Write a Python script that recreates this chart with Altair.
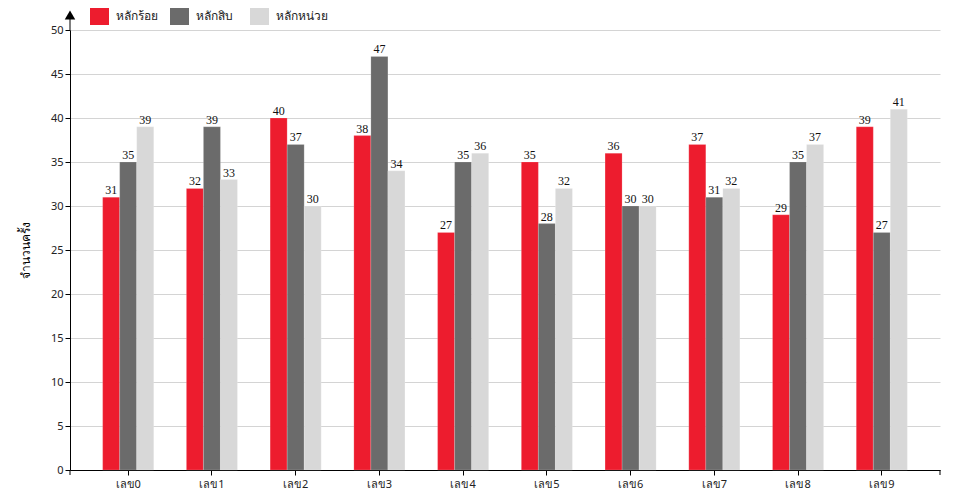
import altair as alt
import pandas as pd

categories = ["เลข0", "เลข1", "เลข2", "เลข3", "เลข4", "เลข5", "เลข6", "เลข7", "เลข8", "เลข9"]
series = ["หลักร้อย", "หลักสิบ", "หลักหน่วย"]
hundreds = [31, 32, 40, 38, 27, 35, 36, 37, 29, 39]
tens = [35, 39, 37, 47, 35, 28, 30, 31, 35, 27]
units = [39, 33, 30, 34, 36, 32, 30, 32, 37, 41]
colors = ["#ed1c2e", "#6b6b6b", "#d8d8d8"]

rows = []
for vals, s in zip([hundreds, tens, units], series):
    for c, v in zip(categories, vals):
        rows.append({"cat": c, "series": s, "value": v})
df = pd.DataFrame(rows)

W, H = 870, 440
FONT = "Noto Sans"

x = alt.X("cat:N", sort=categories, title=None,
          scale=alt.Scale(paddingInner=0.39, paddingOuter=0.39),
          axis=alt.Axis(labelAngle=0, labelFontSize=11, labelColor="#222", labelFont=FONT,
                        tickColor="#000", domainColor="#000", tickSize=5, labelPadding=3,
                        grid=False))
xo = alt.XOffset("series:N", sort=series)
y = alt.Y("value:Q", title="จำนวนครั้ง",
          scale=alt.Scale(domain=[0, 50], nice=False),
          axis=alt.Axis(values=list(range(0, 51, 5)), labelFontSize=11, labelColor="#222",
                        labelFont=FONT, tickColor="#000", domainColor="#000", tickSize=5,
                        gridColor="#d4d4d4", titleFont=FONT, titleFontSize=12,
                        titleFontWeight="normal", titleColor="#000", titlePadding=18))

base = alt.Chart(df)
bars = base.mark_bar(stroke="#ffffff", strokeOpacity=0.35, strokeWidth=0.5).encode(
    x=x, xOffset=xo, y=y,
    color=alt.Color("series:N", sort=series, title=None,
                    scale=alt.Scale(domain=series, range=colors),
                    legend=alt.Legend(orient="none", legendX=20, legendY=-24, direction="horizontal",
                                      symbolType="square", symbolSize=361, symbolStrokeWidth=0,
                                      labelFontSize=12, labelFont=FONT, labelColor="#222",
                                      gridAlign="all", columnPadding=2, labelOffset=7)),
)
labels = base.mark_text(dy=-7, font="Liberation Serif", fontSize=12, color="#111").encode(
    x=x, xOffset=xo, y=y, text="value:Q"
)

one = pd.DataFrame({"a": [0]})
ext = alt.Chart(one).mark_rule(color="#000", strokeWidth=1).encode(
    x=alt.value(0), y=alt.value(0), y2=alt.value(-15))
arrow = alt.Chart(one).mark_point(shape="triangle-up", filled=True, color="#000", size=110, opacity=1).encode(
    x=alt.value(0), y=alt.value(-15))
endticks = alt.Chart(pd.DataFrame({"p": [0, W]})).mark_rule(color="#000").encode(
    x=alt.X("p:Q", scale=None), y=alt.value(H), y2=alt.value(H + 5))

chart = alt.layer(bars, labels, ext, arrow, endticks).properties(
    width=W, height=H,
    autosize=alt.AutoSizeParams(type="none"),
    padding={"left": 62, "top": 22, "right": 12, "bottom": 30},
).configure_view(stroke=None)

chart.save("out.html", embed_options={"renderer": "svg", "actions": False})
